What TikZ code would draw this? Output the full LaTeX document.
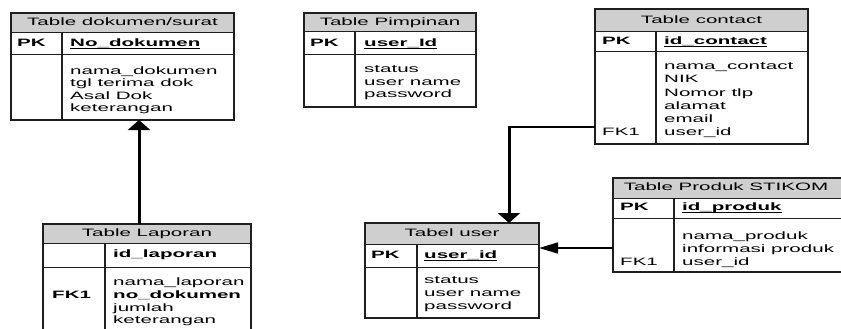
\documentclass[tikz,border=0pt]{standalone}
\usepackage{fontspec}
\setmainfont{Liberation Sans}[FakeStretch=1.92]
\usetikzlibrary{arrows.meta,fit}

% bold key name with a heavy underline
\newcommand\keyul[1]{\setbox0\hbox{#1}\rlap{\rule[-2.6pt]{\wd0}{1.2pt}}\box0}

\tikzset{
  hdrfill/.style={fill=black!19},
  tblframe/.style={draw=black!88, line width=1.1pt, inner sep=0pt, outer sep=0pt},
  hline/.style={draw=black!88, line width=1pt},
  vline/.style={draw=black!88, line width=1.8pt},
  txt/.style={inner sep=0pt, anchor=mid west, font=\fontsize{10.7}{12}\selectfont},
  ttl/.style={txt, anchor=mid},
  hconn/.style={draw=black, line width=1.5pt},
  vconn/.style={draw=black, line width=3pt},
  vtip/.style={-{Triangle[width=22pt,length=10pt]}},
  htip/.style={-{Triangle[width=11pt,length=19pt]}},
}

% table frame: name, top-left (x,y), bottom-right (x,y), header bottom, key row bottom, column divider
\newcommand\erbox[8]{%
  \fill[hdrfill] (#2,#3) rectangle (#4,#6);
  \node[tblframe, fit={(#2,#3) (#4,#5)}] (#1) {};
  \draw[hline] (#2,#6) -- (#4,#6) (#2,#7) -- (#4,#7);
  \draw[vline] (#8,#6) -- (#8,#5) (#2,#3) -- (#2,#5) (#4,#3) -- (#4,#5);
}

\begin{document}
\begin{tikzpicture}[x=1pt, y=-1pt]
\fill[white] (0,0) rectangle (841,329);
\useasboundingbox (0,0) rectangle (841,329);
\clip (0,0) rectangle (841,329);

% ---- Table dokumen/surat
\erbox{doc}{11}{13}{234}{120}{33}{55}{62}
\node[ttl] (doc-t) at (122.5,23) {Table dokumen/surat};
\node[txt] (doc-pk) at (17,44) {\bfseries PK};
\node[txt] (doc-k) at (70,44) {\bfseries\keyul{No\_dokumen}};
\foreach \t [count=\i] in {nama\_dokumen, tgl terima dok, Asal Dok, keterangan}
  \node[txt] (doc-a\i) at (70,{72+12.3*(\i-1)}) {\t};

% ---- Table Pimpinan
\erbox{pim}{304}{13}{476}{107}{32}{55}{355}
\node[ttl] (pim-t) at (390,22.5) {Table Pimpinan};
\node[txt] (pim-pk) at (310,43.5) {\bfseries PK};
\node[txt] (pim-k) at (364,43.5) {\bfseries\keyul{user\_Id}};
\foreach \t [count=\i] in {status, user name, password}
  \node[txt] (pim-a\i) at (364,{70+12.5*(\i-1)}) {\t};

% ---- Table contact
\erbox{con}{595}{9}{808}{144}{32}{52}{656}
\node[ttl] (con-t) at (701.5,20.5) {Table contact};
\node[txt] (con-pk) at (602,42) {\bfseries PK};
\node[txt] (con-k) at (664,42) {\bfseries\keyul{id\_contact}};
\foreach \t [count=\i] in {nama\_contact, NIK, Nomor tlp, alamat, email, user\_id}
  \node[txt] (con-a\i) at (664,{67+13.2*(\i-1)}) {\t};
\node[txt] (con-fk) at (602,133) {FK1};

% ---- Tabel user
\erbox{usr}{365}{223}{539}{318}{244}{267}{417}
\node[ttl] (usr-t) at (452,233.5) {Tabel user};
\node[txt] (usr-pk) at (371,255.5) {\bfseries PK};
\node[txt] (usr-k) at (424,255.5) {\bfseries\keyul{user\_id}};
\foreach \t [count=\i] in {status, user name, password}
  \node[txt] (usr-a\i) at (424,{281+13*(\i-1)}) {\t};

% ---- Table Produk STIKOM
\erbox{prd}{613}{178}{845}{272}{198}{218}{674}
\node[ttl] (prd-t) at (726,188) {Table Produk STIKOM};
\node[txt] (prd-pk) at (620,208) {\bfseries PK};
\node[txt] (prd-k) at (682,208) {\bfseries\keyul{id\_produk}};
\foreach \t [count=\i] in {nama\_produk, informasi produk, user\_id}
  \node[txt] (prd-a\i) at (682,{237+13*(\i-1)}) {\t};
\node[txt] (prd-fk) at (620,263) {FK1};

% ---- Table Laporan
\erbox{lap}{43}{224}{251}{345}{243}{267}{105}
\node[ttl] (lap-t) at (147,233.5) {Table Laporan};
\node[txt] (lap-k) at (113,255) {\bfseries id\_laporan};
\foreach \t [count=\i] in {nama\_laporan, {\bfseries no\_dokumen}, jumlah, keterangan}
  \node[txt] (lap-a\i) at (113,{283+12.7*(\i-1)}) {\t};
\node[txt] (lap-fk) at (52,296) {\bfseries FK1};

% ---- relationships
\coordinate (r1) at (139,0);
\draw[vconn, vtip] (lap.north -| r1) -- (doc.south -| r1);

\coordinate (r2) at (509,127);
\draw[hconn] (con.west |- r2) -- (r2);
\draw[vconn, vtip] ([yshift=0.75pt]r2) -- (usr.north -| r2);

\coordinate (r3) at (0,248);
\draw[hconn, htip] (prd.west |- r3) -- (usr.east |- r3);
\end{tikzpicture}
\end{document}
